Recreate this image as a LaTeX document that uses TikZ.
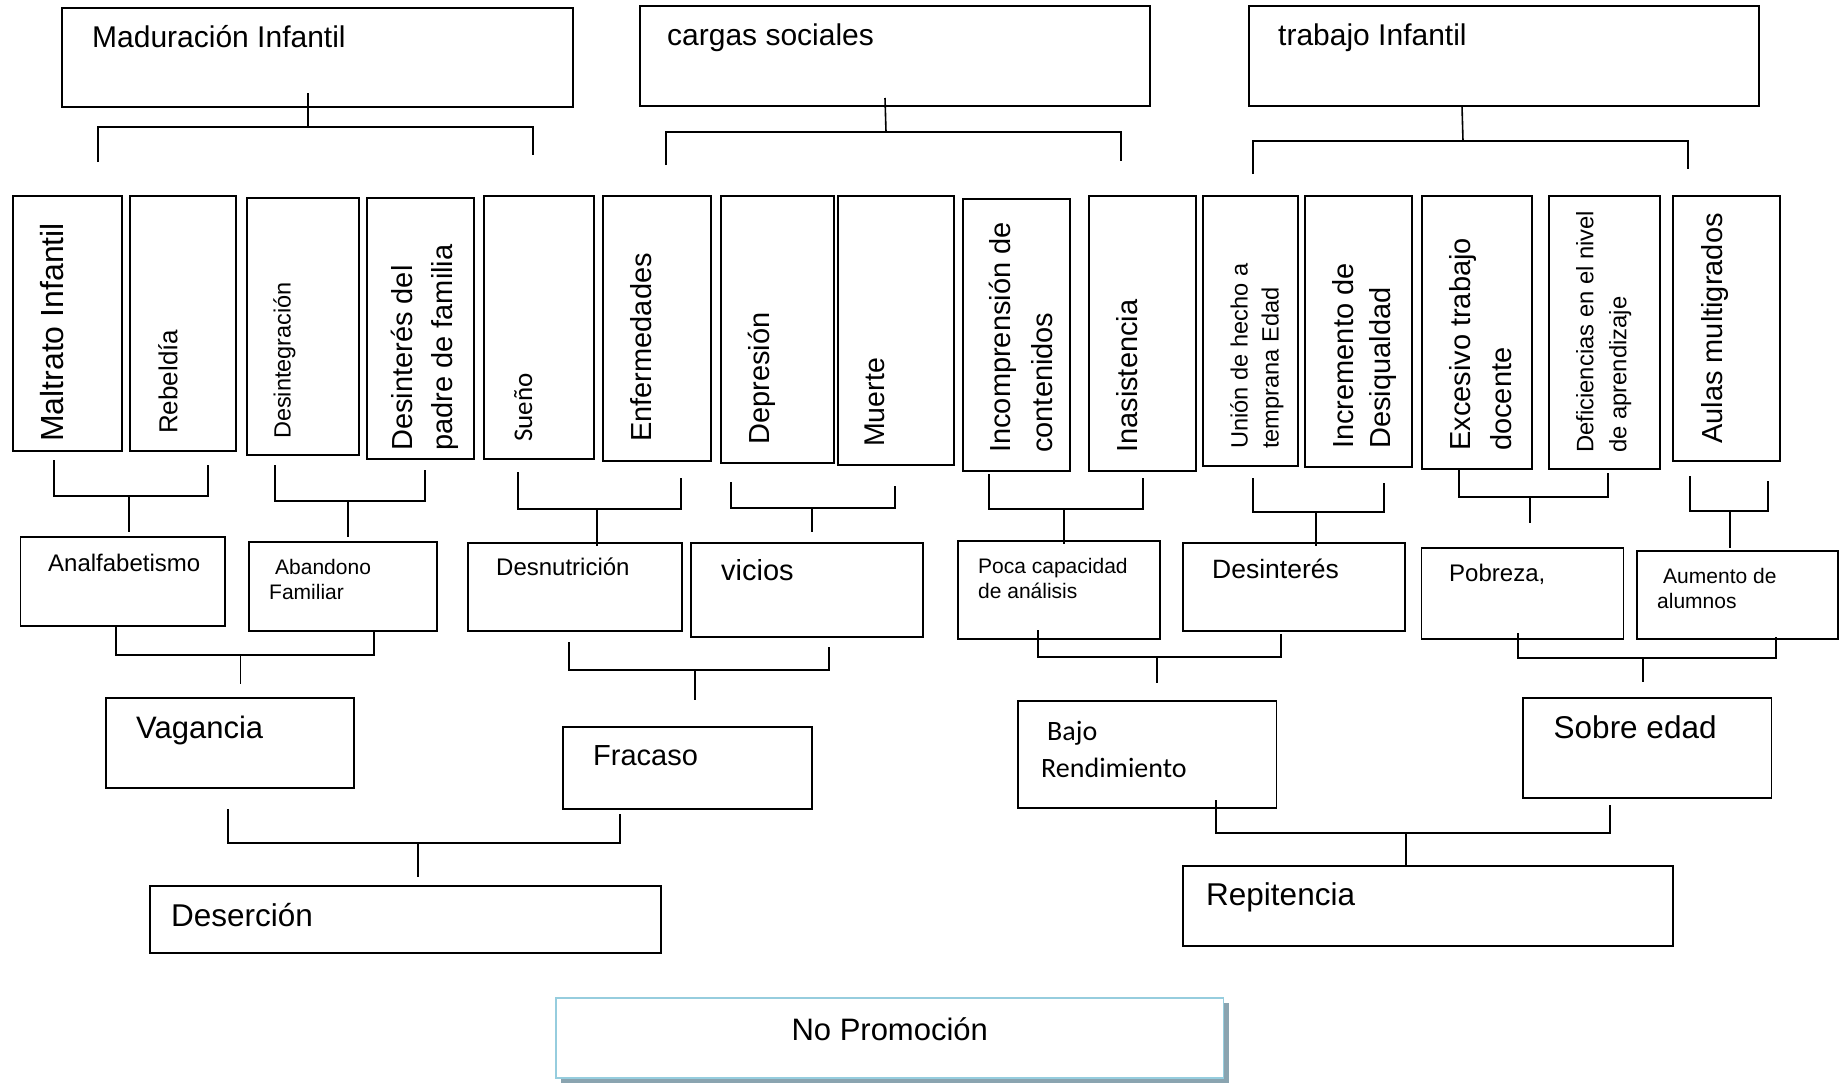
\documentclass[tikz,border=0pt]{standalone}
\usepackage{fontspec}
\setmainfont{Liberation Sans}
\newfontfamily\calibri{Carlito}
\usetikzlibrary{calc, shadows}
\definecolor{promoedge}{RGB}{150,205,222}
\definecolor{promoshade}{RGB}{138,164,176}

\begin{document}
\begin{tikzpicture}[x=1pt, y=-1pt,
    box/.style={draw, line width=1.8pt, outer sep=0pt, inner sep=0pt, anchor=north west},
    txt/.style={inner sep=0pt, align=left},
    htext/.style={txt, anchor=base west},
    mtext/.style={txt, anchor=north west},
    vtext/.style={txt, anchor=north west, rotate=90},
    sz/.style 2 args={font=\fontsize{#1pt}{#2pt}\selectfont},
    link/.style={line width=1.6pt}]

    \useasboundingbox (0,0) rectangle (1844,1084);

    % Top categories
    \node[box, minimum width=511pt, minimum height=99pt] (mad) at (62,8) {};
    \node[box, minimum width=510pt, minimum height=100pt] (car) at (640,6) {};
    \node[box, minimum width=510pt, minimum height=100pt] (tra) at (1249,6) {};
    \node[htext, sz={30}{36}] (mad-t) at ([shift={(30,39)}]mad.north west) {Maduración Infantil};
    \node[htext, sz={30}{36}] (car-t) at ([shift={(27,39)}]car.north west) {cargas sociales};
    \node[htext, sz={30}{36}] (tra-t) at ([shift={(29,39)}]tra.north west) {trabajo Infantil};

    % Causes (vertical boxes)
    \node[box, minimum width=109pt, minimum height=255pt] (mal) at (13,196) {};
    \node[box, minimum width=106pt, minimum height=255pt] (reb) at (130,196) {};
    \node[box, minimum width=112pt, minimum height=257pt] (desi) at (247,198) {};
    \node[box, minimum width=107pt, minimum height=261pt] (desp) at (367,198) {};
    \node[box, minimum width=110pt, minimum height=263pt] (sue) at (484,196) {};
    \node[box, minimum width=108pt, minimum height=265pt] (enf) at (603,196) {};
    \node[box, minimum width=113pt, minimum height=267pt] (dep) at (721,196) {};
    \node[box, minimum width=116pt, minimum height=269pt] (mue) at (838,196) {};
    \node[box, minimum width=107pt, minimum height=272pt] (inc) at (963,199) {};
    \node[box, minimum width=107pt, minimum height=275pt] (ina) at (1089,196) {};
    \node[box, minimum width=95pt, minimum height=270pt] (uni) at (1203,196) {};
    \node[box, minimum width=107pt, minimum height=271pt] (ind) at (1305,196) {};
    \node[box, minimum width=110pt, minimum height=273pt] (exc) at (1422,196) {};
    \node[box, minimum width=111pt, minimum height=273pt] (def) at (1549,196) {};
    \node[box, minimum width=107pt, minimum height=265pt] (aul) at (1673,196) {};

    \node[vtext, sz={32}{38}] (mal-t) at ([shift={(27,-9)}]mal.south west) {Maltrato Infantil};
    \node[vtext, sz={26}{31}] (reb-t) at ([shift={(28,-17)}]reb.south west) {Rebeldía};
    \node[vtext, sz={23.5}{28}] (desi-t) at ([shift={(26,-16)}]desi.south west) {Desintegración};
    \node[vtext, sz={29}{40}] (desp-t) at ([shift={(24,-8)}]desp.south west) {Desinterés del\\padre de familia};
    \node[vtext, font=\calibri\fontsize{27pt}{33pt}\selectfont] (sue-t) at ([shift={(30,-17)}]sue.south west) {Sueño};
    \node[vtext, sz={29}{35}] (enf-t) at ([shift={(27,-19)}]enf.south west) {Enfermedades};
    \node[vtext, sz={29}{35}] (dep-t) at ([shift={(27,-18)}]dep.south west) {Depresión};
    \node[vtext, sz={28.5}{34}] (mue-t) at ([shift={(27,-18)}]mue.south west) {Muerte};
    \node[vtext, sz={29}{42}] (inc-t) at ([shift={(26,-18)}]inc.south west) {Incomprensión de\\contenidos};
    \node[vtext, sz={29}{35}] (ina-t) at ([shift={(27,-18)}]ina.south west) {Inasistencia};
    \node[vtext, sz={23.6}{31}] (uni-t) at ([shift={(27,-17)}]uni.south west) {Unión de hecho a\\temprana Edad};
    \node[vtext, sz={29}{37}] (ind-t) at ([shift={(27,-18)}]ind.south west) {Incremento de\\Desiqualdad};
    \node[vtext, sz={29}{41}] (exc-t) at ([shift={(27,-18)}]exc.south west) {Excesivo trabajo\\docente};
    \node[vtext, sz={23.8}{33}] (def-t) at ([shift={(27,-16)}]def.south west) {Deficiencias en el nivel\\de aprendizaje};
    \node[vtext, sz={29}{35}] (aul-t) at ([shift={(28,-17)}]aul.south west) {Aulas multigrados};

    % Second level
    \node[box, minimum width=204.5pt, minimum height=89pt] (ana) at (20.5,537) {};
    \node[box, minimum width=188pt, minimum height=89pt] (aba) at (249,542) {};
    \node[box, minimum width=214pt, minimum height=88pt] (des) at (468,543) {};
    \node[box, minimum width=232pt, minimum height=94pt] (vic) at (691,543) {};
    \node[box, minimum width=202pt, minimum height=98pt] (poc) at (958,541) {};
    \node[box, minimum width=222pt, minimum height=88pt] (dsi) at (1183,543) {};
    \node[box, minimum width=202pt, minimum height=91pt] (pob) at (1421.5,548) {};
    \node[box, minimum width=201pt, minimum height=88pt] (aum) at (1637,551) {};

    \node[htext, sz={24}{28}] (ana-t) at ([shift={(27.5,34)}]ana.north west) {Analfabetismo};
    \node[mtext, sz={21}{25.5}] (aba-t) at ([shift={(20,17)}]aba.north west) {\hspace*{6pt}Abandono\\Familiar};
    \node[htext, sz={24}{28}] (des-t) at ([shift={(28,32)}]des.north west) {Desnutrición};
    \node[htext, sz={29}{34}] (vic-t) at ([shift={(30,37)}]vic.north west) {vicios};
    \node[mtext, sz={21}{25}] (poc-t) at ([shift={(20,17)}]poc.north west) {Poca capacidad\\de análisis};
    \node[htext, sz={26.5}{31}] (dsi-t) at ([shift={(29,35)}]dsi.north west) {Desinterés};
    \node[htext, sz={24}{28}] (pob-t) at ([shift={(27.5,33)}]pob.north west) {Pobreza,};
    \node[mtext, sz={21}{25}] (aum-t) at ([shift={(20,17)}]aum.north west) {\hspace*{6pt}Aumento de\\alumnos};

    % Third level
    \node[box, minimum width=248.4pt, minimum height=90pt] (vag) at (105.6,698) {};
    \node[box, minimum width=249pt, minimum height=82pt] (fra) at (563,727) {};
    \node[box, minimum width=258.5pt, minimum height=107pt] (baj) at (1018,701) {};
    \node[box, minimum width=248.5pt, minimum height=100pt] (sob) at (1523,698) {};

    \node[htext, sz={31}{37}] (vag-t) at ([shift={(30.4,40)}]vag.north west) {Vagancia};
    \node[htext, sz={29}{35}] (fra-t) at ([shift={(30,38)}]fra.north west) {Fracaso};
    \node[mtext, font=\calibri\fontsize{28pt}{37pt}\selectfont] (baj-t) at ([shift={(23,20)}]baj.north west) {\hspace*{6pt}Bajo\\Rendimiento};
    \node[htext, sz={31.5}{37}] (sob-t) at ([shift={(30.5,40)}]sob.north west) {Sobre edad};

    % Effects
    \node[box, minimum width=511.4pt, minimum height=67pt] (dese) at (149.6,886) {};
    \node[box, minimum width=490pt, minimum height=80pt] (rep) at (1183,866) {};
    \node[htext, sz={31.5}{37}] (dese-t) at ([shift={(21.4,40)}]dese.north west) {Deserción};
    \node[htext, sz={31.5}{37}] (rep-t) at ([shift={(23,39)}]rep.north west) {Repitencia};

    \node[box, draw=promoedge, fill=white, minimum width=667.5pt, minimum height=80pt,
          drop shadow={shadow xshift=5pt, shadow yshift=-5pt, fill=promoshade, opacity=1}] (nop) at (556,998) {};
    \node[txt, anchor=base, sz={31}{37}] (nop-t) at ([shift={(0,42)}]nop.north) {No Promoción};

    % Brackets from the top categories
    \draw[link] ($(mad.south)+(-9.5,-14)$) -- ($(mad.south)+(-9.5,20)$);
    \draw[link] ($(mal.north)+(30.5,-34)$) |- ($(sue.north)+(-6,-69)$) -- ($(sue.north)+(-6,-41)$);
    \draw[link] ($(car.south)+(-10,-8)$) -- ($(car.south)+(-9,26)$);
    \draw[link] ($(enf.north)+(9,-31)$) |- ($(ina.north)+(-21.5,-64)$) -- ($(ina.north)+(-21.5,-35)$);
    \draw[link] ($(tra.south)+(-42,0)$) -- ($(tra.south)+(-41,35)$);
    \draw[link] ($(uni.north)+(2.5,-22)$) |- ($(aul.north)+(-38.5,-55)$) -- ($(aul.north)+(-38.5,-27)$);

    % Brackets causes -> second level
    \draw[link] ($(mal.south)+(-13.5,9)$) |- ($(reb.south)+(25,45)$) -- ($(reb.south)+(25,14)$);
    \draw[link] ($(ana.north)+(6,-41)$) -- ($(ana.north)+(6,-5)$);
    \draw[link] ($(desi.south)+(-28,10)$) |- ($(desp.south)+(4.5,42)$) -- ($(desp.south)+(4.5,11)$);
    \draw[link] ($(aba.north)+(5,-41)$) -- ($(aba.north)+(5,-5)$);
    \draw[link] ($(sue.south)+(-21,13)$) |- ($(enf.south)+(24,48)$) -- ($(enf.south)+(24,17)$);
    \draw[link] ($(des.north)+(22,-34)$) -- ($(des.north)+(22,3)$);
    \draw[link] ($(dep.south)+(-46.5,19)$) |- ($(mue.south)+(-1,43)$) -- ($(mue.south)+(-1,21)$);
    \draw[link] ($(vic.north)+(5,-35)$) -- ($(vic.north)+(5,-11)$);
    \draw[link] ($(inc.south)+(-27.5,3)$) |- ($(ina.south)+(0.5,38)$) -- ($(ina.south)+(0.5,7)$);
    \draw[link] ($(poc.north)+(5,-32)$) -- ($(poc.north)+(5,3)$);
    \draw[link] ($(uni.south)+(2.5,12)$) |- ($(ind.south)+(25.5,45)$) -- ($(ind.south)+(25.5,16)$);
    \draw[link] ($(dsi.north)+(22,-31)$) -- ($(dsi.north)+(22,3)$);
    \draw[link] ($(exc.south)+(-18,0)$) |- ($(def.south)+(3.5,28)$) -- ($(def.south)+(3.5,4)$);
    \draw[link] ($(pob.north)+(7.5,-51)$) -- ($(pob.north)+(7.5,-25)$);
    \draw[link] ($(aul.south)+(-36.5,15)$) |- ($(aul.south)+(41.5,50)$) -- ($(aul.south)+(41.5,20)$);
    \draw[link] ($(aum.north)+(-7.5,-40)$) -- ($(aum.north)+(-7.5,-3)$);

    % Brackets second level -> third level
    \draw[link] ($(ana.south)+(-7,0)$) |- ($(aba.south)+(31,24)$) -- ($(aba.south)+(31,0)$);
    \draw[link] ($(vag.north)+(10.5,-43)$) -- ($(vag.north)+(10.5,-14)$);
    \draw[link] ($(des.south)+(-6,11)$) |- ($(vic.south)+(22,33)$) -- ($(vic.south)+(22,10)$);
    \draw[link] ($(fra.north)+(7.5,-57)$) -- ($(fra.north)+(7.5,-27)$);
    \draw[link] ($(poc.south)+(-21,-9)$) |- ($(dsi.south)+(-13,26)$) -- ($(dsi.south)+(-13,3)$);
    \draw[link] ($(baj.north)+(10,-44)$) -- ($(baj.north)+(10,-18)$);
    \draw[link] ($(pob.south)+(-4.5,-6)$) |- ($(aum.south)+(38.5,19)$) -- ($(aum.south)+(38.5,-2)$);
    \draw[link] ($(sob.north)+(-4,-40)$) -- ($(sob.north)+(-4,-16)$);

    % Brackets third level -> effects
    \draw[link] ($(vag.south)+(-2,21)$) |- ($(fra.south)+(-67.5,34)$) -- ($(fra.south)+(-67.5,5)$);
    \draw[link] ($(dese.north)+(12.7,-43)$) -- ($(dese.north)+(12.7,-9)$);
    \draw[link] ($(baj.south)+(69,-8)$) |- ($(sob.south)+(-37.5,35)$) -- ($(sob.south)+(-37.5,7)$);
    \draw[link] ($(rep.north)+(-22,-33)$) -- ($(rep.north)+(-22,1)$);
\end{tikzpicture}
\end{document}
